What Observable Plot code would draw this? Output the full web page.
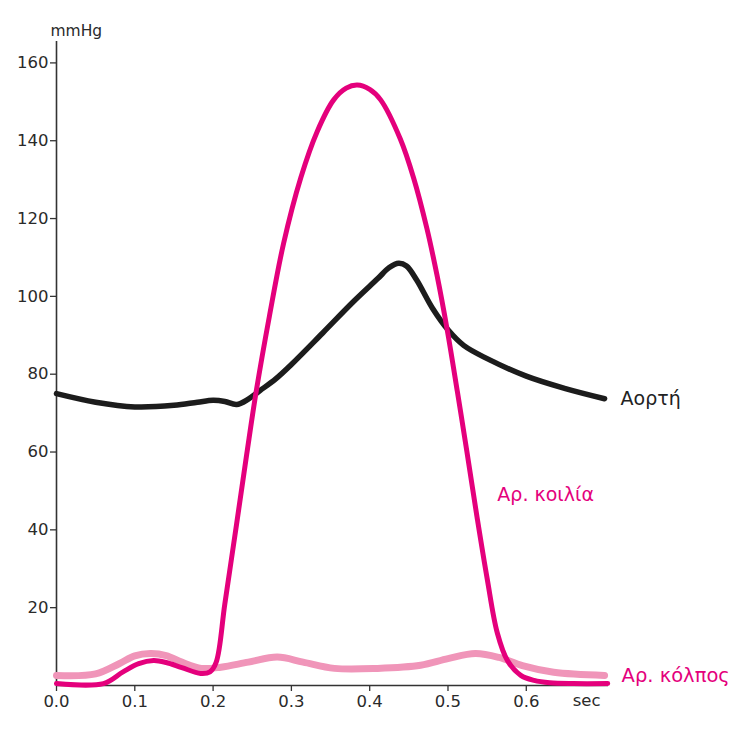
<!DOCTYPE html>
<html>
<head>
<meta charset="utf-8">
<script src="https://cdn.jsdelivr.net/npm/d3@7"></script>
<script src="https://cdn.jsdelivr.net/npm/@observablehq/plot@0.6"></script>
<style>
  html, body { margin: 0; padding: 0; background: #fff; }
  #chart { width: 747px; height: 735px; }
</style>
</head>
<body>
<div id="chart"></div>
<script>
// ---- data ----
const xTicks = [0, 0.1, 0.2, 0.3, 0.4, 0.5, 0.6];
const yTicks = [20, 40, 60, 80, 100, 120, 140, 160];

const aortaT = [0, 0.05, 0.1, 0.15, 0.18, 0.2, 0.215, 0.23, 0.245, 0.26, 0.28, 0.3, 0.34, 0.38, 0.41, 0.425, 0.437, 0.447, 0.46, 0.48, 0.5, 0.52, 0.55, 0.6, 0.65, 0.7];
const aortaP = [75, 72.8, 71.6, 72, 72.8, 73.3, 73, 72.2, 73.6, 75.8, 78.8, 82.5, 90.6, 98.8, 104.5, 107.4, 108.5, 107.8, 104.2, 97, 91.4, 87.4, 84, 79.5, 76.3, 73.7];

const ventricleT = [0, 0.06, 0.085, 0.105, 0.124, 0.14, 0.16, 0.184, 0.196, 0.204, 0.215, 0.23, 0.243, 0.255, 0.272, 0.29, 0.312, 0.333, 0.354, 0.37, 0.384, 0.4, 0.414, 0.439, 0.456, 0.473, 0.486, 0.499, 0.512, 0.524, 0.537, 0.55, 0.563, 0.576, 0.593, 0.61, 0.63, 0.66, 0.704];
const ventricleP = [0.5, 0.5, 3.5, 5.6, 6.4, 5.9, 4.6, 3.1, 3.5, 6, 21, 41.5, 59.5, 75.5, 95, 113.6, 130.5, 142.4, 150.5, 153.5, 154.3, 153.2, 150.5, 140.5, 130.5, 117.5, 105.4, 91.4, 75.5, 60.3, 43.4, 27.5, 13.5, 6.4, 2.6, 1.3, 0.7, 0.5, 0.5];

const atriumT = [0, 0.05, 0.08, 0.1, 0.12, 0.14, 0.16, 0.185, 0.21, 0.245, 0.282, 0.315, 0.355, 0.41, 0.465, 0.5, 0.535, 0.565, 0.595, 0.635, 0.7];
const atriumP = [2.6, 3, 5.6, 7.6, 8.2, 7.7, 6, 4.4, 4.7, 6, 7.3, 6, 4.4, 4.4, 5.2, 6.9, 8.2, 7.2, 5.1, 3.4, 2.6];

const seriesNames = ["Αορτή", "Αρ. κοιλία", "Αρ. κόλπος"];
const unitY = "mmHg";
const unitX = "sec";
const ventricleLabelAt = {t: 0.563, p: 49};
const secLabelAt = 0.677;

// ---- build tables ----
const aorta = aortaT.map((t, i) => ({t, p: aortaP[i]}));
const ventricle = ventricleT.map((t, i) => ({t, p: ventricleP[i]}));
const atrium = atriumT.map((t, i) => ({t, p: atriumP[i]}));

const BLACK = "#1c1c1c";
const MAGENTA = "#e4007c";
const PINK = "#f095b9";
const FONT = "'DejaVu Sans', sans-serif";

const chart = Plot.plot({
  width: 747,
  height: 735,
  marginLeft: 56,
  marginRight: 139,
  marginTop: 41,
  marginBottom: 50,
  style: {fontFamily: FONT, fontSize: "16.5px", color: "#2a2a2a", background: "#fff"},
  x: {domain: [0, 0.705]},
  y: {domain: [0, 165.5]},
  marks: [
    Plot.axisX({ticks: xTicks, tickFormat: d3.format(".1f"), tickSize: 6, tickPadding: 4, label: null, stroke: "#333", strokeWidth: 1.3, fontSize: 16.5}),
    Plot.axisY({ticks: yTicks, tickSize: 6, tickPadding: 2, label: null, stroke: "#333", strokeWidth: 1.3, fontSize: 16.5}),
    Plot.ruleY([0], {stroke: "#333", strokeWidth: 1.6}),
    Plot.ruleX([0], {stroke: "#333", strokeWidth: 1.6}),
    Plot.line(atrium, {x: "t", y: "p", stroke: PINK, strokeWidth: 7, curve: "catmull-rom"}),
    Plot.line(aorta, {x: "t", y: "p", stroke: BLACK, strokeWidth: 5.5, curve: "catmull-rom"}),
    Plot.line(ventricle, {x: "t", y: "p", stroke: MAGENTA, strokeWidth: 5, curve: "catmull-rom"}),
    Plot.text([aorta[aorta.length - 1]], {x: "t", y: "p", text: () => seriesNames[0], textAnchor: "start", dx: 16, fill: "#222", fontSize: 19}),
    Plot.text([ventricleLabelAt], {x: "t", y: "p", text: () => seriesNames[1], textAnchor: "start", fill: MAGENTA, fontSize: 19}),
    Plot.text([atrium[atrium.length - 1]], {x: "t", y: "p", text: () => seriesNames[2], textAnchor: "start", dx: 17, fill: MAGENTA, fontSize: 19.5}),
    Plot.text([secLabelAt], {x: d => d, frameAnchor: "bottom", dy: 20, text: () => unitX, fill: "#2a2a2a", fontSize: 16.5}),
    Plot.text([unitY], {frameAnchor: "top-left", dx: -6, dy: -17, text: d => d, fill: "#2a2a2a", fontSize: 15.5})
  ]
});

document.getElementById("chart").appendChild(chart);
</script>
</body>
</html>
